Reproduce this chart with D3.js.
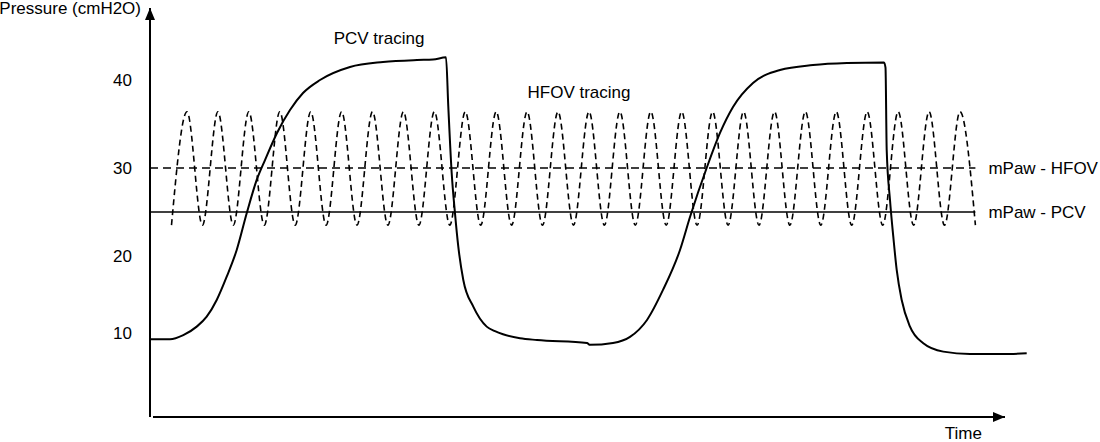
<!DOCTYPE html>
<html lang="en">
<head>
    <meta charset="UTF-8">
    <title>PCV vs HFOV pressure tracing</title>
    <style>
        body { margin: 0; background: #fff; }
        svg { display: block; }
        text { font-family: "Liberation Sans", Arial, sans-serif; font-size: 17px; fill: #000; }
    </style>
</head>
<body>
    <svg id="chart" width="1100" height="442"></svg>

    <script src="https://d3js.org/d3.v7.min.js"></script>
    <script>
        // PCV tracing, time (arbitrary units) and pressure (cmH2O)
        const pcvTime = [0, 20, 33.3, 46.7, 56.7, 66.7, 76.7, 86.7, 96.7, 106.7, 115, 127, 140, 153, 170,
                         200, 233, 267, 283, 296, 298.3, 301.7, 305, 308.3, 313.3, 323.3, 336.7, 345, 353,
                         370, 387, 437, 440, 463, 480, 497, 513, 530, 540, 557, 570, 583, 603, 630, 663,
                         697, 734, 735.5, 736.7, 740, 743.3, 746.7, 751.7, 760, 773.3, 793.3, 820, 853,
                         876.7];
        const pcvValue = [10.53, 10.53, 11.0, 11.97, 13.1, 15.0, 17.65, 20.68, 24.85, 28.64, 30.9, 33.98,
                          36.59, 38.52, 40.0, 41.48, 42.05, 42.27, 42.32, 42.58, 36.97, 29.4, 24.85, 21.06,
                          17.27, 14.24, 11.97, 11.45, 11.1, 10.65, 10.45, 10.11, 9.9, 10.11, 10.8, 12.73,
                          16.14, 20.68, 24.43, 30.11, 33.98, 36.93, 39.66, 41.14, 41.7, 41.93, 42.0, 41.4,
                          32.05, 26.36, 22.19, 18.41, 15.0, 11.97, 10.08, 9.13, 8.86, 8.86, 8.94];

        // HFOV oscillation: times of troughs and peaks, and their pressures
        const hfovTroughs = [21.5, 52.4, 83.3, 114.3, 145.2, 176.1, 207, 237.9, 268.9, 299.8, 330.7, 361.6,
                             392.5, 423.5, 454.4, 485.3, 516.2, 547.1, 578.1, 609, 639.9, 670.8, 701.7,
                             732.7, 763.6, 794.5, 825.4];
        const hfovPeaks = [37, 67.9, 98.8, 129.8, 160.7, 191.6, 222.5, 253.4, 284.4, 315.3, 346.2, 377.1,
                           408, 439, 469.9, 500.8, 531.7, 562.6, 593.6, 624.5, 655.4, 686.3, 717.2, 748.2,
                           779.1, 810];
        const hfovLow = 23.5;
        const hfovHigh = 36.4;

        // mean airway pressures
        const mpawHfov = 30;
        const mpawPcv = 25;
        const mpawEnd = 825.4;

        // y tick labels; the "10" label sits a little above its true level in the original
        const yTickValues = [40, 30, 20, 11.2];
        const yTickLabels = ["40", "30", "20", "10"];

        const svg = d3.select('#chart');

        const x = d3.scaleLinear().domain([0, 855]).range([150, 1005]);
        const y = d3.scaleLinear().domain([1.7, 40]).range([417, 80]);

        // arrow heads
        const defs = svg.append('defs');
        defs.append('marker')
            .attr('id', 'arrow')
            .attr('viewBox', '0 0 12 10')
            .attr('refX', 12).attr('refY', 5)
            .attr('markerWidth', 12).attr('markerHeight', 10)
            .attr('markerUnits', 'userSpaceOnUse')
            .attr('orient', 'auto')
            .append('path')
            .attr('d', 'M0,0 L12,5 L0,10 Z')
            .attr('fill', '#000');

        // axes
        svg.append('line')
            .attr('x1', x(0)).attr('y1', y(1.7))
            .attr('x2', x(0)).attr('y2', 8)
            .attr('stroke', '#000').attr('stroke-width', 2)
            .attr('marker-end', 'url(#arrow)');
        svg.append('line')
            .attr('x1', x(0) + 3).attr('y1', y(1.7))
            .attr('x2', x(855)).attr('y2', y(1.7))
            .attr('stroke', '#000').attr('stroke-width', 2)
            .attr('marker-end', 'url(#arrow)');

        const yAxis = d3.axisLeft(y)
            .tickValues(yTickValues)
            .tickFormat((d, i) => yTickLabels[i])
            .tickSize(0)
            .tickPadding(18);
        const gy = svg.append('g')
            .attr('transform', `translate(${x(0)},0)`)
            .call(yAxis);
        gy.select('.domain').remove();
        gy.selectAll('text')
            .style('font-family', '"Liberation Sans", Arial, sans-serif')
            .style('font-size', '17px');

        svg.append('text')
            .attr('x', 141).attr('y', 14)
            .attr('text-anchor', 'end')
            .text('Pressure (cmH2O)');
        svg.append('text')
            .attr('x', 982).attr('y', 439)
            .attr('text-anchor', 'end')
            .text('Time');

        // mPaw reference lines
        svg.append('line')
            .attr('x1', x(0)).attr('x2', x(mpawEnd))
            .attr('y1', y(mpawHfov)).attr('y2', y(mpawHfov))
            .attr('stroke', '#000').attr('stroke-width', 1.6)
            .attr('stroke-dasharray', '8,5');
        svg.append('line')
            .attr('x1', x(0)).attr('x2', x(mpawEnd))
            .attr('y1', y(mpawPcv)).attr('y2', y(mpawPcv))
            .attr('stroke', '#000').attr('stroke-width', 1.6);

        svg.append('text')
            .attr('x', x(mpawEnd) + 13).attr('y', y(mpawHfov) + 6)
            .text('mPaw - HFOV');
        svg.append('text')
            .attr('x', x(mpawEnd) + 13).attr('y', y(mpawPcv) + 6)
            .text('mPaw - PCV');

        // HFOV tracing
        const hfov = hfovTroughs.map(t => [t, hfovLow])
            .concat(hfovPeaks.map(t => [t, hfovHigh]))
            .sort((a, b) => a[0] - b[0]);
        const hfovLine = d3.line()
            .x(d => x(d[0]))
            .y(d => y(d[1]))
            .curve(d3.curveMonotoneX);
        svg.append('path')
            .datum(hfov)
            .attr('d', hfovLine)
            .attr('fill', 'none')
            .attr('stroke', '#000')
            .attr('stroke-width', 1.6)
            .attr('stroke-dasharray', '6,4');

        // PCV tracing
        const pcv = pcvTime.map((t, i) => [t, pcvValue[i]]);
        const pcvLine = d3.line()
            .x(d => x(d[0]))
            .y(d => y(d[1]))
            .curve(d3.curveMonotoneX);
        svg.append('path')
            .datum(pcv)
            .attr('d', pcvLine)
            .attr('fill', 'none')
            .attr('stroke', '#000')
            .attr('stroke-width', 2);

        svg.append('text')
            .attr('x', x(229)).attr('y', 44)
            .attr('text-anchor', 'middle')
            .text('PCV tracing');
        svg.append('text')
            .attr('x', x(429)).attr('y', 98)
            .attr('text-anchor', 'middle')
            .text('HFOV tracing');
    </script>
</body>
</html>
